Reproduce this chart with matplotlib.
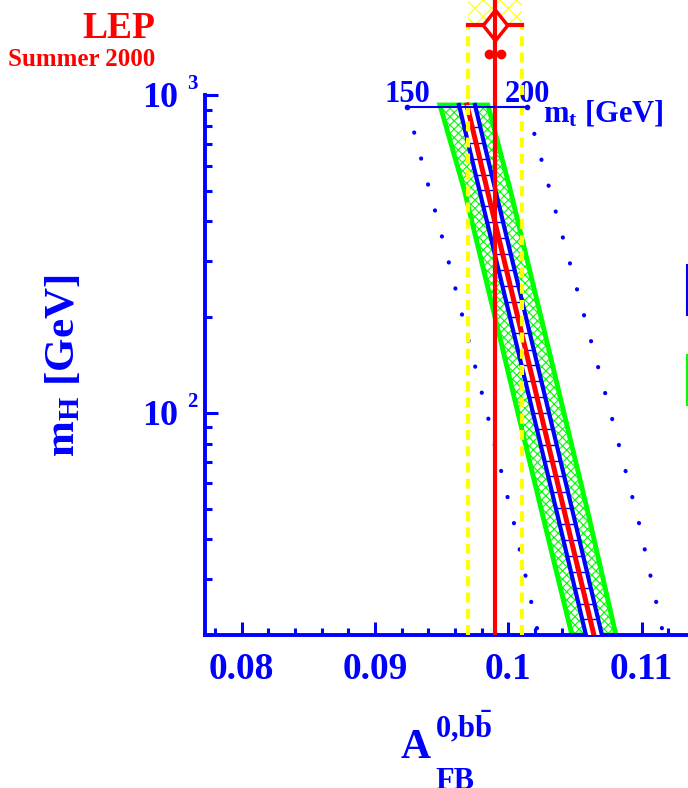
import numpy as np
import matplotlib
matplotlib.use("Agg")
import matplotlib.pyplot as plt
import matplotlib.transforms as mtransforms
from matplotlib.patches import Polygon, Rectangle
from matplotlib.path import Path
from matplotlib.ticker import FixedLocator, MultipleLocator, LogLocator, NullFormatter

# values
mh_band = [20, 50, 100, 200, 500, 930]
afb_center = [0.10642, 0.10415, 0.10243, 0.10071, 0.09843, 0.09690]
afb_green_lo = [0.10477, 0.10245, 0.10072, 0.09900, 0.09671, 0.09487]
afb_green_hi = [0.10807, 0.10590, 0.10417, 0.10245, 0.10016, 0.09847]
afb_blue_lo = [0.10582, 0.10357, 0.10185, 0.10012, 0.09784, 0.09630]
afb_blue_hi = [0.10702, 0.10477, 0.10305, 0.10132, 0.09904, 0.09750]

mh_ladder = [22.4, 25.1, 28.2, 31.6, 35.5, 39.8, 44.7, 50.1, 56.2, 63.1, 70.8,
             79.4, 89.1, 100, 112, 126, 141, 158, 178, 200, 224, 251, 282, 316,
             355, 398, 447, 501, 562, 631, 708, 794]

mh_mt150 = [21, 45, 97, 305, 787]
afb_mt150 = [0.10215, 0.10042, 0.09847, 0.09547, 0.09285]
mh_mt200 = [21, 45, 96, 303, 782]
afb_mt200 = [0.11152, 0.10980, 0.10778, 0.10455, 0.10185]

mt_labels = ["150", "200"]
afb_mt_ends = [0.09240, 0.10140]
mh_mt_scale = 917

afb_meas = 0.0990
afb_err = 0.0020
afb_dots = [0.09855, 0.09945]

x_ticks = [0.08, 0.09, 0.10, 0.11]
x_ticklabels = ["0.08", "0.09", "0.1", "0.11"]
y_decades = [100, 1000]
y_exponents = ["2", "3"]

BLUE = "#0000ff"
RED = "#ff0000"
GREEN = "#00ff00"
YELLOW = "#ffff00"

plt.rcParams["font.family"] = ["Liberation Serif", "DejaVu Serif"]
plt.rcParams["font.weight"] = "bold"
plt.rcParams["mathtext.fontset"] = "custom"
plt.rcParams["mathtext.rm"] = "Liberation Serif:bold"
plt.rcParams["mathtext.bf"] = "Liberation Serif:bold"
plt.rcParams["mathtext.it"] = "Liberation Serif:bold"
plt.rcParams["mathtext.default"] = "bf"
plt.rcParams["hatch.linewidth"] = 0.8

W, H = 688, 788
fig = plt.figure(figsize=(W / 100, H / 100), dpi=100)


def fx(px):
    return px / W


def fy(py):
    return 1 - py / H


xmin, xmax = 0.07725, 0.125
ax_w = (xmax - xmin) * 13333 / W
ax = fig.add_axes([fx(205), fy(635), ax_w, (635 - 95) / H])
ax.set_xlim(xmin, xmax)
ax.set_yscale("log")
ax.set_ylim(20, 1000)

for s in ["top", "right"]:
    ax.spines[s].set_visible(False)
for s in ["left", "bottom"]:
    ax.spines[s].set_color(BLUE)
    ax.spines[s].set_linewidth(2.8)

ax.xaxis.set_major_locator(FixedLocator(x_ticks))
ax.set_xticklabels(x_ticklabels)
ax.xaxis.set_minor_locator(MultipleLocator(0.002))
ax.yaxis.set_major_locator(FixedLocator(y_decades))
ax.yaxis.set_minor_locator(LogLocator(base=10, subs=np.arange(2, 10)))
ax.yaxis.set_major_formatter(NullFormatter())
ax.yaxis.set_minor_formatter(NullFormatter())
ax.tick_params(which="both", direction="in", color=BLUE, width=2.2,
               top=False, right=False)
ax.tick_params(which="major", length=9.5)
ax.tick_params(which="minor", length=5)
ax.tick_params(axis="x", labelcolor=BLUE, labelsize=27, pad=12)

# y tick labels written as 10 + exponent
for dec, ex in zip(y_decades, y_exponents):
    tr = mtransforms.blended_transform_factory(fig.transFigure, ax.transData)
    ax.text(fx(178), dec, "10", ha="right", va="baseline", fontsize=26,
            color=BLUE, clip_on=False,
            transform=mtransforms.offset_copy(tr, fig, y=-12, units="dots"))
    ax.text(fx(187), dec, ex, ha="left", va="baseline", fontsize=15,
            color=BLUE, clip_on=False,
            transform=mtransforms.offset_copy(tr, fig, y=6, units="dots"))

# dotted mt = 150 / 200 lines
for xs, ys in [(afb_mt150, mh_mt150), (afb_mt200, mh_mt200)]:
    ax.plot(xs, ys, color=BLUE, lw=3, dashes=[0.05, 6.4],
            dash_capstyle="round", zorder=1)

# green hatched band
green_poly = list(zip(afb_green_lo, mh_band)) + list(zip(afb_green_hi[::-1], mh_band[::-1]))
ax.add_patch(Polygon(green_poly, closed=True, facecolor="white", edgecolor=GREEN,
                     hatch="xxxx", lw=3.5, joinstyle="miter", zorder=2))

# inner blue band
blue_poly = list(zip(afb_blue_lo, mh_band)) + list(zip(afb_blue_hi[::-1], mh_band[::-1]))
ax.add_patch(Polygon(blue_poly, closed=True, facecolor="white", edgecolor="none",
                     zorder=3))
ax.plot(afb_blue_lo, mh_band, color=BLUE, lw=3, zorder=4)
ax.plot(afb_blue_hi, mh_band, color=BLUE, lw=3, zorder=4)
log_band = np.log10(mh_band)
for m in mh_ladder:
    lo = np.interp(np.log10(m), log_band, afb_blue_lo)
    hi = np.interp(np.log10(m), log_band, afb_blue_hi)
    ax.plot([lo, hi], [m, m], color=BLUE, lw=1.0, zorder=4)
ax.plot(afb_center, mh_band, color=RED, lw=3.6, zorder=5)

# measurement
ax.axvline(afb_meas, color=RED, lw=3, zorder=6)
for xv in [afb_meas - afb_err, afb_meas + afb_err]:
    ax.axvline(xv, color=YELLOW, lw=3, dashes=[2.4, 1.5], zorder=6)

# mt scale at the top of the band
ax.plot(afb_mt_ends, [mh_mt_scale] * 2, color=BLUE, lw=1.5, marker="o", ms=3,
        zorder=7, clip_on=False)
for xv, lab in zip(afb_mt_ends, mt_labels):
    ax.text(xv, mh_mt_scale, lab, ha="center", va="baseline", fontsize=22,
            color=BLUE, clip_on=False, zorder=8,
            transform=mtransforms.offset_copy(ax.transData, fig, y=5, units="dots"))
fig.text(fx(543), fy(121), r"$m_t$ [GeV]", ha="left", va="baseline",
         fontsize=22, color=BLUE)

# measurement marker above the frame
ax_top = fig.add_axes([fx(205), fy(95), ax_w, 95 / H])
ax_top.set_xlim(xmin, xmax)
ax_top.set_ylim(0, 95)
ax_top.axis("off")
ax_top.add_patch(Rectangle((afb_meas - afb_err, 70), 2 * afb_err, 30, fill=False,
                           hatch="xx", edgecolor=YELLOW, lw=0, zorder=1))
ax_top.vlines([afb_meas - afb_err, afb_meas + afb_err], 0, 70, color=YELLOW,
              lw=3, linestyles=[(0, (2.4, 1.5))], zorder=2)
ax_top.plot([afb_meas - afb_err, afb_meas + afb_err], [70, 70], color=RED, lw=3,
            zorder=3)
diamond = Path([(0, 1), (0.8, 0), (0, -1), (-0.8, 0), (0, 1)])
ax_top.plot([afb_meas], [70], marker=diamond, ms=22, mfc="white", mec=RED,
            mew=2.5, zorder=4)
ax_top.axvline(afb_meas, color=RED, lw=3, zorder=5)
ax_top.plot(afb_dots, [41, 41], "o", color=RED, ms=6, zorder=5)

# axis titles
fig.text(fx(64), fy(366), r"$m_H$ [GeV]", rotation=90, ha="center", va="center",
         fontsize=31, color=BLUE)
fig.text(fx(401), fy(758), "A", ha="left", va="baseline", fontsize=30, color=BLUE)
fig.text(fx(435), fy(738), r"$0{,}b\bar{b}$", ha="left", va="baseline",
         fontsize=22, color=BLUE)
fig.text(fx(435), fy(789), "FB", ha="left", va="baseline", fontsize=22, color=BLUE)

# title
fig.text(fx(155), fy(38), "LEP", ha="right", va="baseline", fontsize=27, color=RED)
fig.text(fx(155), fy(66), "Summer 2000", ha="right", va="baseline", fontsize=18,
         color=RED)

# cut-off legend boxes at the right edge
fig.add_artist(Rectangle((fx(687), fy(315)), 0.05, 50 / H, transform=fig.transFigure,
                         facecolor="white", edgecolor=BLUE, lw=1.5))
fig.add_artist(Rectangle((fx(687), fy(405)), 0.05, 50 / H, transform=fig.transFigure,
                         facecolor="white", edgecolor=GREEN, lw=1.5))

fig.savefig("out.png", dpi=100)
